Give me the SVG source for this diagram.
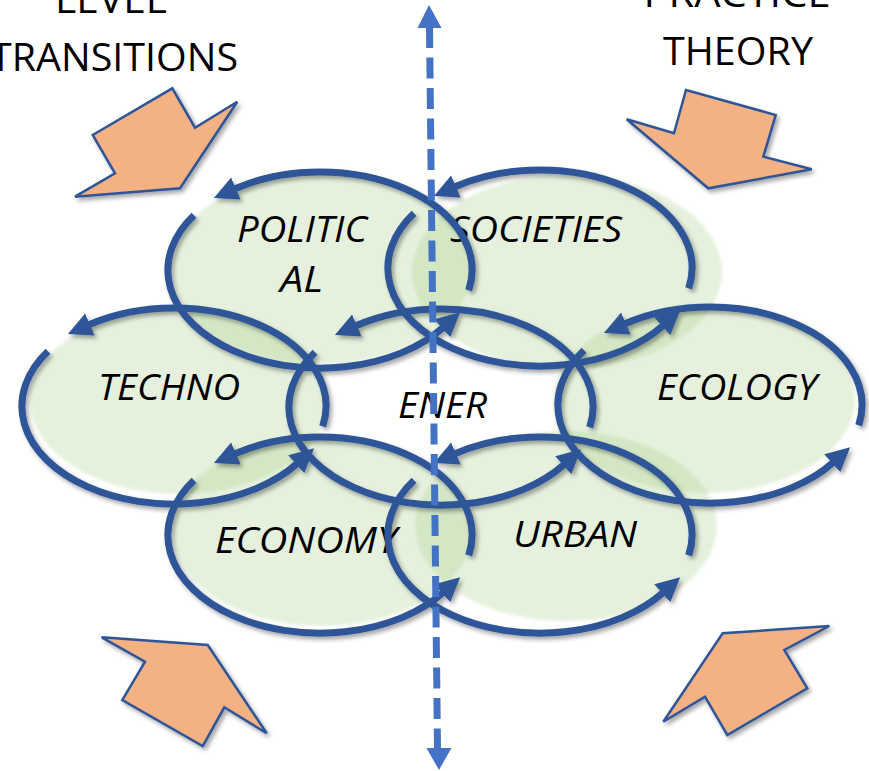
<svg xmlns="http://www.w3.org/2000/svg" width="869" height="771" viewBox="0 0 869 771">
<style>
.fill{fill:#a9d18e;fill-opacity:0.3}
.lbl{font-family:"Open Sans","Noto Sans",sans-serif;font-style:italic;font-size:37px;fill:#000}
.hdr{font-family:"Open Sans","Noto Sans",sans-serif;font-size:39px;fill:#000}
.ring{fill:none;stroke:#2f5597;stroke-width:7;marker-end:url(#ah)}
.blk{fill:#f4b183;stroke:#2f5597;stroke-width:2.5;stroke-linejoin:miter}
</style>
<defs>
<marker id="ah" markerUnits="userSpaceOnUse" viewBox="0 -13 26 26" markerWidth="26" markerHeight="26" refX="1" refY="0" orient="auto">
<path d="M0,-12 L24,0 L0,12z" fill="#2f5597"/>
</marker>
<filter id="sh" x="-10%" y="-10%" width="130%" height="130%">
<feDropShadow dx="2.5" dy="3" stdDeviation="2" flood-color="#000" flood-opacity="0.35"/>
</filter>
<filter id="soft" x="-10%" y="-10%" width="120%" height="120%">
<feGaussianBlur stdDeviation="1.5"/>
</filter>
</defs>
<rect width="869" height="771" fill="#fff"/>

<g id="headers">
<text class="hdr" x="111" y="13" text-anchor="middle" textLength="112" lengthAdjust="spacingAndGlyphs">LEVEL</text>
<text class="hdr" x="114" y="71" text-anchor="middle" textLength="248" lengthAdjust="spacingAndGlyphs">TRANSITIONS</text>
<text class="hdr" x="737" y="7" text-anchor="middle" textLength="187" lengthAdjust="spacingAndGlyphs">PRACTICE</text>
<text class="hdr" x="738" y="65" text-anchor="middle" textLength="150" lengthAdjust="spacingAndGlyphs">THEORY</text>
</g>

<g id="node-political">
<ellipse class="fill" cx="322" cy="268" rx="150" ry="96" filter="url(#soft)"/>
<text class="lbl" x="237" y="242" textLength="130" lengthAdjust="spacingAndGlyphs">POLITIC</text>
<text class="lbl" x="280" y="292" textLength="43" lengthAdjust="spacingAndGlyphs">AL</text>
</g>
<g id="node-societies">
<ellipse class="fill" cx="567" cy="272" rx="155" ry="97" filter="url(#soft)"/>
<text class="lbl" x="450" y="242" textLength="172" lengthAdjust="spacingAndGlyphs">SOCIETIES</text>
</g>
<g id="node-techno">
<ellipse class="fill" cx="179" cy="401" rx="149" ry="93" filter="url(#soft)"/>
<text class="lbl" x="98" y="400" textLength="142" lengthAdjust="spacingAndGlyphs">TECHNO</text>
</g>
<g id="node-ener">
<text class="lbl" x="398" y="418" textLength="89" lengthAdjust="spacingAndGlyphs">ENER</text>
</g>
<g id="node-ecology">
<ellipse class="fill" cx="704" cy="400" rx="151" ry="93" filter="url(#soft)"/>
<text class="lbl" x="657" y="400" textLength="160" lengthAdjust="spacingAndGlyphs">ECOLOGY</text>
</g>
<g id="node-economy">
<ellipse class="fill" cx="322" cy="531" rx="150" ry="95" filter="url(#soft)"/>
<text class="lbl" x="215" y="553" textLength="182" lengthAdjust="spacingAndGlyphs">ECONOMY</text>
</g>
<g id="node-urban">
<ellipse class="fill" cx="566" cy="526" rx="151" ry="95" filter="url(#soft)"/>
<text class="lbl" x="513" y="547" textLength="124" lengthAdjust="spacingAndGlyphs">URBAN</text>
</g>

<g id="connectors" filter="url(#sh)">
<g id="ring-political">
<path class="ring" d="M468.7,290.4 A152,98 0 0 0 235,188.8"/>
<path class="ring" d="M194,215.2 A152,98 0 0 0 443,327.6"/>
</g>
<g id="ring-societies">
<path class="ring" d="M688.7,288.4 A152,98 0 0 0 455,186.8"/>
<path class="ring" d="M414,213.2 A152,98 0 0 0 663,325.6"/>
</g>
<g id="ring-techno">
<path class="ring" d="M322.7,426.4 A152,98 0 0 0 89,324.8"/>
<path class="ring" d="M48,351.2 A152,98 0 0 0 297,463.6"/>
</g>
<g id="ring-ener">
<path class="ring" d="M589.7,427.4 A152,98 0 0 0 356,325.8"/>
<path class="ring" d="M315,352.2 A152,98 0 0 0 564,464.6"/>
</g>
<g id="ring-ecology">
<path class="ring" d="M858.7,425.4 A152,98 0 0 0 625,323.8"/>
<path class="ring" d="M584,350.2 A152,98 0 0 0 833,462.6"/>
</g>
<g id="ring-economy">
<path class="ring" d="M468.7,555.4 A152,98 0 0 0 235,453.8"/>
<path class="ring" d="M194,480.2 A152,98 0 0 0 443,592.6"/>
</g>
<g id="ring-urban">
<path class="ring" d="M688.7,555.4 A152,98 0 0 0 455,453.8"/>
<path class="ring" d="M414,480.2 A152,98 0 0 0 663,592.6"/>
</g>
</g>

<g id="axis">
<line x1="429.5" y1="27" x2="437.5" y2="749" stroke="#4472c4" stroke-width="7" stroke-dasharray="21 9.5"/>
<polygon points="429,5 441.5,28 417.5,28" fill="#4472c4"/>
<polygon points="439,770 451.5,748 426.5,748" fill="#4472c4"/>
</g>

<g id="inputs" filter="url(#sh)">
<polygon class="blk" points="92.7,135 172.3,88.3 195,127.7 237.3,101.7 180,188.3 75,196.7 115,173.3"/>
<polygon class="blk" points="626.7,119.3 674,133.3 686,90 775.7,115 763.3,156.7 811.7,169.3 708.3,188.3"/>
<polygon class="blk" points="101.7,637.3 207.7,645 266.7,733.3 224.3,707.3 202.7,746 122.3,700 145,661.7"/>
<polygon class="blk" points="829.3,626 722.7,633.3 663.3,721.7 705,696.7 727.3,735 807.3,688.3 784.3,650"/>
</g>
</svg>
